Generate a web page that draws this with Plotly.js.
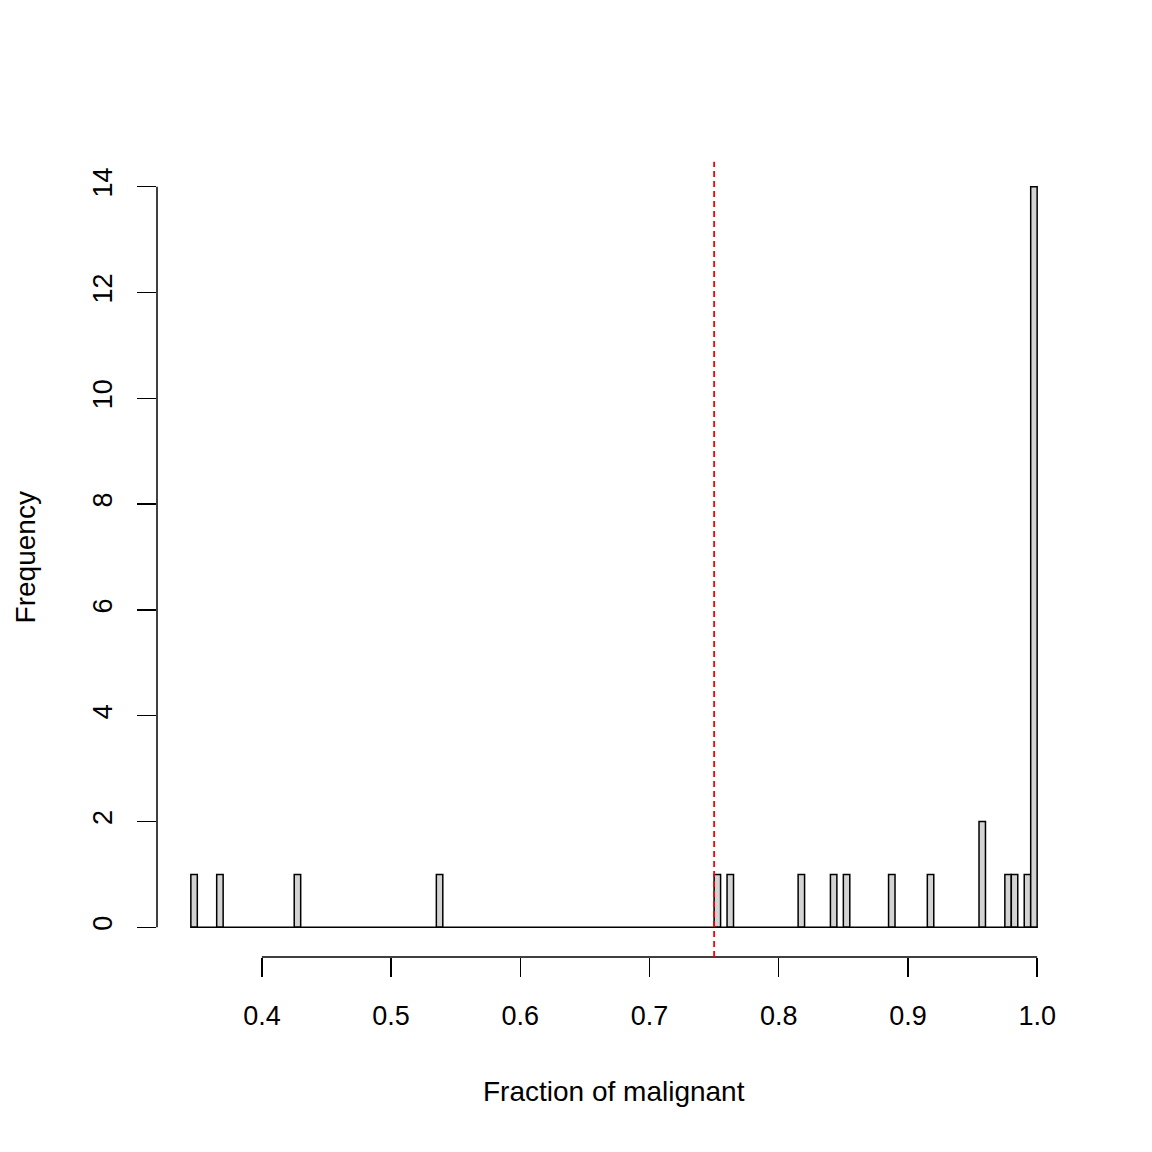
<!DOCTYPE html>
<html>
<head>
<script src="https://cdn.plot.ly/plotly-3.0.1.min.js"></script>
<style>body{margin:0;background:#fff}</style>
</head>
<body>
<div id="plot" style="width:1152px;height:1152px"></div>
<script>
// histogram bins of width 0.005, only non-empty ones listed (left edges)
var binWidth = 0.005;
var histStart = 0.345;
var histEnd = 1.0;
var binLeft = [0.345, 0.365, 0.425, 0.535, 0.750, 0.760, 0.815, 0.840, 0.850, 0.885, 0.915, 0.955, 0.975, 0.980, 0.990, 0.995];
var counts  = [1, 1, 1, 1, 1, 1, 1, 1, 1, 1, 1, 2, 1, 1, 1, 14];
var xTicks = [0.4, 0.5, 0.6, 0.7, 0.8, 0.9, 1.0];
var xTickText = ['0.4', '0.5', '0.6', '0.7', '0.8', '0.9', '1.0'];
var yTicks = [0, 2, 4, 6, 8, 10, 12, 14];
var cutoff = 0.75;

var fontFam = 'Liberation Sans, Arial, sans-serif';

var trace = {
    type: 'bar',
    x: binLeft.map(function (b) { return b + binWidth / 2; }),
    y: counts,
    width: binLeft.map(function () { return binWidth; }),
    marker: { color: '#d3d3d3', line: { color: 'black', width: 1.5 } },
    hoverinfo: 'x+y'
};

var xr = [histStart - 0.04 * (histEnd - histStart), histEnd + 0.04 * (histEnd - histStart)];
var yr = [-0.04 * 14, 14 * 1.04];

var layout = {
    width: 1152, height: 1152,
    margin: { l: 157, r: 81, t: 157, b: 195 },
    paper_bgcolor: 'white', plot_bgcolor: 'white',
    showlegend: false,
    bargap: 0,
    font: { family: fontFam, size: 27, color: 'black' },
    xaxis: {
        range: xr, showgrid: false, zeroline: false, showline: false,
        tickmode: 'array', tickvals: xTicks, ticktext: xTickText,
        ticks: 'outside', ticklen: 19, tickwidth: 1.5, tickcolor: 'black',
        ticklabelstandoff: 16, tickfont: { size: 27 }
    },
    yaxis: {
        range: yr, showgrid: false, zeroline: false, showline: false,
        tickmode: 'array', tickvals: yTicks,
        ticks: 'outside', ticklen: 19, tickwidth: 1.5, tickcolor: 'black',
        ticklabelstandoff: 14, tickangle: -90, tickfont: { size: 27 }
    },
    shapes: [
        // axis lines like base R
        { type: 'line', xref: 'x', yref: 'paper', x0: xTicks[0], x1: xTicks[xTicks.length - 1], y0: 0, y1: 0, line: { color: 'black', width: 1.5 } },
        { type: 'line', xref: 'paper', yref: 'y', x0: 0, x1: 0, y0: yTicks[0], y1: yTicks[yTicks.length - 1], line: { color: 'black', width: 1.5 } },
        // empty bins baseline
        { type: 'line', xref: 'x', yref: 'y', x0: histStart, x1: histEnd, y0: 0, y1: 0, line: { color: 'black', width: 1.5 } },
        // cutoff
        { type: 'line', xref: 'x', yref: 'paper', x0: cutoff, x1: cutoff, y0: 0, y1: 0.994, line: { color: 'red', width: 1.8, dash: '6px,4px' } }
    ],
    annotations: [
        { text: 'Fraction of malignant', xref: 'paper', yref: 'paper', x: 0.5, y: -0.168, yanchor: 'middle', showarrow: false, font: { size: 28 } },
        { text: 'Frequency', xref: 'paper', yref: 'paper', x: -0.144, y: 0.5, xanchor: 'center', yanchor: 'middle', textangle: -90, showarrow: false, font: { size: 28 } }
    ]
};

Plotly.newPlot('plot', [trace], layout, { displayModeBar: false, staticPlot: true });
</script>
</body>
</html>
